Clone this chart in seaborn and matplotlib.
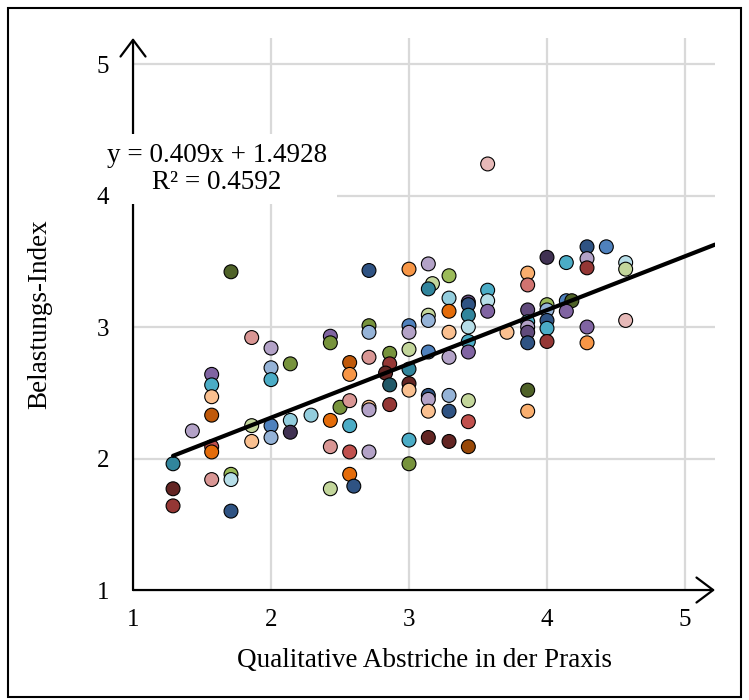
import matplotlib
matplotlib.use("Agg")
import matplotlib.pyplot as plt
import seaborn as sns
import pandas as pd
from matplotlib.patches import Rectangle, ArrowStyle

# ---------------- data ----------------
x_vals = [1.29, 1.29, 1.29, 1.43, 1.57, 1.57, 1.57, 1.57, 1.57, 1.57,
          1.57, 1.71, 1.71, 1.71, 1.71, 1.86, 1.86, 1.86, 2.00, 2.00,
          2.00, 2.00, 2.00, 2.14, 2.14, 2.14, 2.29, 2.43, 2.43, 2.43,
          2.43, 2.43, 2.50, 2.57, 2.57, 2.57, 2.57, 2.57, 2.57, 2.60,
          2.71, 2.71, 2.71, 2.71, 2.71, 2.71, 2.71, 2.86, 2.86, 2.83,
          2.86, 2.86, 3.00, 3.00, 3.00, 3.00, 3.00, 3.00, 3.00, 3.00,
          3.00, 3.14, 3.17, 3.14, 3.14, 3.14, 3.14, 3.14, 3.14, 3.14,
          3.14, 3.29, 3.29, 3.29, 3.29, 3.29, 3.29, 3.29, 3.29, 3.43,
          3.43, 3.43, 3.43, 3.43, 3.43, 3.43, 3.43, 3.43, 3.57, 3.57,
          3.57, 3.57, 3.71, 3.86, 3.86, 3.86, 3.86, 3.86, 3.86, 3.86,
          3.86, 3.86, 4.00, 4.00, 4.00, 4.00, 4.00, 4.00, 4.14, 4.14,
          4.18, 4.14, 4.29, 4.29, 4.29, 4.29, 4.29, 4.43, 4.57, 4.57,
          4.57]
y_vals = [1.96, 1.77, 1.64, 2.21, 2.64, 2.56, 2.47, 2.33, 2.09, 2.05,
          1.84, 3.42, 1.88, 1.84, 1.60, 2.92, 2.25, 2.13, 2.84, 2.69,
          2.60, 2.25, 2.16, 2.72, 2.29, 2.20, 2.33, 2.93, 2.88, 2.29,
          2.09, 1.77, 2.39, 2.73, 2.64, 2.44, 2.25, 2.05, 1.88, 1.79,
          3.43, 3.01, 2.96, 2.77, 2.39, 2.37, 2.05, 2.80, 2.72, 2.65,
          2.56, 2.41, 3.44, 3.01, 2.96, 2.83, 2.68, 2.57, 2.52, 2.14,
          1.96, 3.48, 3.33, 3.29, 3.09, 3.05, 2.81, 2.48, 2.45, 2.36,
          2.16, 3.39, 3.22, 3.12, 2.96, 2.77, 2.48, 2.36, 2.13, 3.19,
          3.17, 3.09, 3.00, 2.89, 2.81, 2.44, 2.28, 2.09, 4.24, 3.28,
          3.20, 3.12, 2.96, 3.41, 3.32, 3.13, 3.04, 3.00, 2.96, 2.88,
          2.52, 2.36, 3.53, 3.17, 3.13, 3.05, 2.99, 2.89, 3.49, 3.20,
          3.20, 3.12, 3.61, 3.52, 3.45, 3.00, 2.88, 3.61, 3.49, 3.44,
          3.05]
groups = ["teal", "maroon", "darkred", "lavender", "purple", "cyan", "peach", "burnt", "red", "darkorange",
          "rose", "darkolive", "yellowgreen", "lightcyan", "navy", "rose", "lightgreen", "peach", "lavender", "steel",
          "cyan", "blue", "steel", "olive", "sky", "navypurple", "sky", "purple", "olive", "darkorange",
          "rose", "lightgreen", "olive", "burnt", "orange", "rose", "cyan", "red", "darkorange", "navy",
          "navy", "olive", "steel", "rose", "peach", "lavender", "lavender", "olive", "darkred", "maroon",
          "darkteal", "darkred", "orange", "blue", "lavender", "lightgreen", "teal", "maroon", "peach", "cyan",
          "olive", "lavender", "lightgreen", "teal", "lightgreen", "steel", "blue", "navy", "lavender", "peach",
          "maroon", "yellowgreen", "sky", "darkorange", "peach", "lavender", "steel", "navy", "maroon", "darkpurple",
          "navy", "teal", "lightcyan", "cyan", "purple", "lightgreen", "red", "brown", "pink", "cyan",
          "lightcyan", "purple", "peach", "peachorange", "rosered", "darkpurple", "cyan", "lavender", "darkpurple", "navy",
          "darkolive", "peachorange", "navypurple", "yellowgreen", "steel", "navy", "cyan", "darkred", "cyan", "blue",
          "darkolive", "purple", "navy", "lavender", "darkred", "purple", "orange", "blue", "lightcyan", "lightgreen",
          "pink"]

slope = 0.409
intercept = 1.4928
r_squared = 0.4592

x_ticks = [1, 2, 3, 4, 5]
y_ticks = [1, 2, 3, 4, 5]
x_label = "Qualitative Abstriche in der Praxis"
y_label = "Belastungs-Index"

palette = {
    "darkolive": "#4F6228", "olive": "#77933C", "yellowgreen": "#9BBB59",
    "lightgreen": "#C3D69B", "rose": "#D99694", "pink": "#E6B9B8",
    "red": "#C0504D", "rosered": "#D07370", "darkred": "#953735",
    "maroon": "#632523", "orange": "#F79646", "darkorange": "#E46C0A",
    "burnt": "#C0590A", "brown": "#984807", "peach": "#FAC090",
    "peachorange": "#F9AE6E", "lavender": "#B3A2C7", "purple": "#8064A2",
    "darkpurple": "#604A7B", "navypurple": "#403152", "cyan": "#4BACC6",
    "sky": "#93CDDD", "lightcyan": "#B7DEE8", "teal": "#31859C",
    "darkteal": "#215968", "blue": "#4F81BD", "steel": "#95B3D7",
    "navy": "#2F5383",
}

# ---------------- plot ----------------
sns.set_theme(style="white")
plt.rcParams['font.family'] = ['Liberation Serif', 'DejaVu Serif']

fig = plt.figure(figsize=(7.49, 7.0), dpi=100)
ax = fig.add_axes([0.1776, 0.1571, 0.7770, 0.7886])

xmax = 1 + (715 - 133) / 138.0
ymax = 1 + (590 - 38) / 131.5
ax.set_xlim(1, xmax)
ax.set_ylim(1, ymax)

df = pd.DataFrame({"x": x_vals, "y": y_vals, "g": groups})

ax.set_xticks(x_ticks)
ax.set_yticks(y_ticks)
ax.grid(False)
ax.set_axisbelow(False)
for t in x_ticks[1:]:
    ax.axvline(t, color="#D9D9D9", linewidth=1.6, zorder=0.3)
for t in y_ticks[1:]:
    ax.axhline(t, color="#D9D9D9", linewidth=1.6, zorder=0.3)
for s in ax.spines.values():
    s.set_visible(False)

sns.scatterplot(data=df, x="x", y="y", hue="g", palette=palette, s=100,
                edgecolor="black", linewidth=0.8, legend=False, ax=ax, zorder=3)

line_x = [min(x_vals), xmax]
line_y = [slope * v + intercept for v in line_x]
sns.lineplot(x=line_x, y=line_y, color="black", linewidth=3, ax=ax, zorder=4)

ax.tick_params(axis="both", length=0, labelsize=18, colors="black")
ax.tick_params(axis="x", pad=14)
ax.tick_params(axis="y", pad=17)
ax.set_xlabel(x_label, fontsize=19.5, labelpad=12, color="black")
ax.set_ylabel(y_label, fontsize=19.5, labelpad=32, color="black")

style = ArrowStyle("->", head_length=0.6, head_width=0.45)
ax.annotate("", xy=(1, 0), xytext=(0, 0), xycoords="axes fraction",
            arrowprops=dict(arrowstyle=style, lw=1.6, color="black",
                            mutation_scale=20, shrinkA=0, shrinkB=0),
            annotation_clip=False, zorder=2.0)
ax.annotate("", xy=(0, 1), xytext=(0, 0), xycoords="axes fraction",
            arrowprops=dict(arrowstyle=style, lw=1.6, color="black",
                            mutation_scale=20, shrinkA=0, shrinkB=0),
            annotation_clip=False, zorder=2.0)

eq_text = f"y = {slope}x + {intercept}\nR² = {r_squared}"
ax.text(1 + (217 - 133) / 138.0, 1 + (590 - 169) / 131.5, eq_text,
        ha="center", va="center", fontsize=19.5, color="black", zorder=2.2,
        linespacing=1.1, clip_on=False,
        bbox=dict(boxstyle="square,pad=0.35", facecolor="white", edgecolor="none"))

fig.add_artist(Rectangle((8 / 749, 3 / 700), (741 - 8) / 749, (697 - 8) / 700,
                         transform=fig.transFigure, fill=False,
                         edgecolor="black", linewidth=1.5))

fig.savefig("out.png", dpi=100)
